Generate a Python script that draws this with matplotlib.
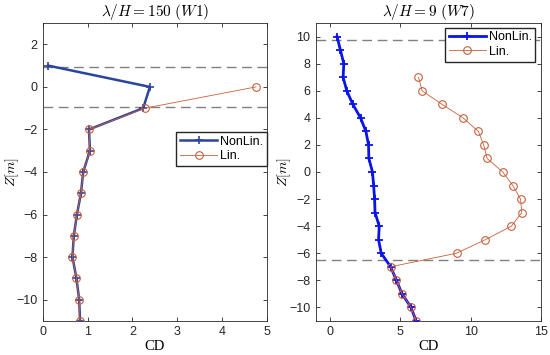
import matplotlib
matplotlib.use("Agg")
import matplotlib.pyplot as plt
import numpy as np

# ---- data: left panel (lambda/H = 150, W1)
z_left_nl = [1, 0, -1, -2, -3, -4, -5, -6, -7, -8, -9, -10, -11]
cd_left_nl = [0.12, 2.39, 2.24, 1.03, 1.05, 0.90, 0.85, 0.76, 0.69, 0.66, 0.75, 0.81, 0.83]
z_left_lin = [0, -1, -2, -3, -4, -5, -6, -7, -8, -9, -10, -11]
cd_left_lin = [4.76, 2.28, 1.03, 1.05, 0.90, 0.85, 0.76, 0.69, 0.66, 0.75, 0.81, 0.83]
dash_left = [0.93, -0.95]

# ---- data: right panel (lambda/H = 9, W7)
z_right_nl = [10, 9, 8, 7, 6, 5, 4, 3, 2, 1, 0, -1, -2, -3, -4, -5, -6, -7, -8, -9, -10, -11]
cd_right_nl = [0.50, 0.74, 0.98, 0.93, 1.19, 1.62, 2.17, 2.55, 2.74, 2.76, 3.02, 3.10, 3.17,
               3.20, 3.50, 3.45, 3.64, 4.31, 4.72, 5.12, 5.76, 6.12]
z_right_lin = [7, 6, 5, 4, 3, 2, 1, 0, -1, -2, -3, -4, -5, -6, -7, -8, -9, -10, -11]
cd_right_lin = [6.29, 6.55, 7.96, 9.46, 10.55, 10.93, 11.17, 12.29, 13.00, 13.55, 13.64,
                12.90, 11.05, 9.00, 4.31, 4.72, 5.12, 5.76, 6.12]
dash_right = [9.75, -6.5]

titles = [r"$\lambda/H\mathrm{=150}\ (W1)$", r"$\lambda/H\mathrm{=9}\ (W7)$"]

plt.rcParams['font.family'] = ['Liberation Sans', 'DejaVu Sans']
plt.rcParams['mathtext.fontset'] = 'cm'

fig = plt.figure(figsize=(5.5, 3.55), dpi=100)
axL = fig.add_axes([0.078, 0.096, 0.407, 0.839])
axR = fig.add_axes([0.5745, 0.096, 0.409, 0.839])

lin_color = '#c8603a'
tick_color = '#262626'


def style(ax):
    for s in ax.spines.values():
        s.set_color('#262626')
        s.set_linewidth(0.6)
    ax.tick_params(direction='in', length=3, width=0.6, labelsize=9,
                   top=True, right=True, colors=tick_color, pad=4)
    ax.set_xlabel('CD', family='Liberation Serif', fontsize=10.5, labelpad=1)
    ax.set_ylabel(r'$Z[m]$', fontsize=10)
    ax.yaxis.set_label_coords(-0.1, 0.5)


# left panel
for zd in dash_left:
    axL.axhline(zd, color='#808080', ls=(0, (7, 4)), lw=1.0, zorder=1)
axL.plot(cd_left_nl, z_left_nl, color='#2a44a0', lw=1.8, marker='+', ms=6, mew=1.2,
         label='NonLin.', zorder=3)
axL.plot(cd_left_lin, z_left_lin, color=lin_color, lw=0.6, marker='o', ms=5.5, mfc='none',
         mec=lin_color, mew=0.8, label='Lin.', zorder=4)
axL.set_xlim(0, 5)
axL.set_ylim(-11, 3)
axL.set_xticks([0, 1, 2, 3, 4, 5])
axL.set_yticks([-10, -8, -6, -4, -2, 0, 2])
axL.set_title(titles[0], fontsize=11, pad=5)
style(axL)
axL.legend(loc='lower left', bbox_to_anchor=(0.595, 0.52), fontsize=9, frameon=True,
           fancybox=False, edgecolor='#262626', framealpha=1, handlelength=3.0,
           borderpad=0.3, labelspacing=0.2, handletextpad=0.2, borderaxespad=0)

# right panel
for zd in dash_right:
    axR.axhline(zd, color='#808080', ls=(0, (7, 4)), lw=1.0, zorder=1)
axR.plot(cd_right_nl, z_right_nl, color='#0a14e6', lw=2.0, marker='+', ms=6, mew=1.3,
         label='NonLin.', zorder=3)
axR.plot(cd_right_lin, z_right_lin, color=lin_color, lw=0.6, marker='o', ms=5.5, mfc='none',
         mec=lin_color, mew=0.8, label='Lin.', zorder=4)
axR.set_xlim(-1, 15)
axR.set_ylim(-11, 11)
axR.set_xticks([0, 5, 10, 15])
axR.set_yticks([-10, -8, -6, -4, -2, 0, 2, 4, 6, 8, 10])
axR.set_title(titles[1], fontsize=11, pad=5)
style(axR)
axR.legend(loc='upper right', bbox_to_anchor=(0.975, 0.985), fontsize=9, frameon=True,
           fancybox=False, edgecolor='#262626', framealpha=1, handlelength=3.0,
           borderpad=0.3, labelspacing=0.2, handletextpad=0.2, borderaxespad=0)

fig.savefig('out.png', dpi=100)
